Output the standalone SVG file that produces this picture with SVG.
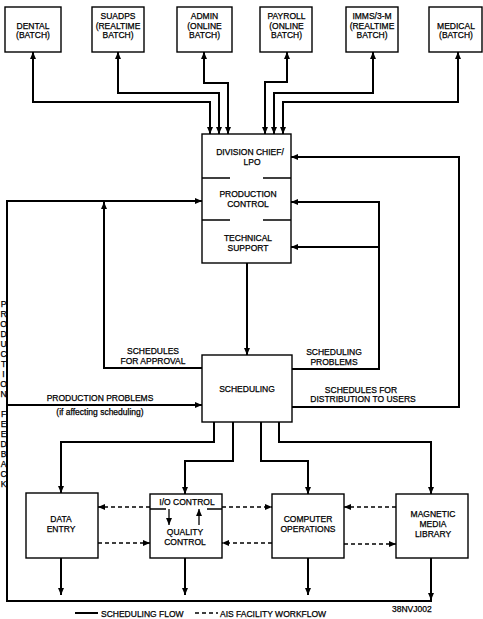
<svg xmlns="http://www.w3.org/2000/svg" width="483" height="619" viewBox="0 0 483 619">
  <style>
    text { font-family: "Liberation Sans", Arial, sans-serif; font-size: 8.5px; fill: #000; stroke: #000; stroke-width: 0.25; text-anchor: middle; }
    .start { text-anchor: start; }
    .box { fill: #fff; stroke: #000; stroke-width: 1.4; }
    .div { stroke: #000; stroke-width: 1.3; fill: none; }
    .flow { fill: none; stroke: #000; stroke-width: 2; }
    .work { fill: none; stroke: #000; stroke-width: 1.3; stroke-dasharray: 4 3; }
  </style>
  <defs>
    <marker id="ah" markerUnits="userSpaceOnUse" markerWidth="8" markerHeight="6" refX="7" refY="3" orient="auto-start-reverse">
      <path d="M0,0 L7,3 L0,6 Z" fill="#000"/>
    </marker>
    <marker id="ahs" markerUnits="userSpaceOnUse" markerWidth="8" markerHeight="6" refX="7" refY="3" orient="auto">
      <path d="M0,0 L7,3 L0,6 Z" fill="#000"/>
    </marker>
  </defs>

  <!-- source systems -->
  <g id="dental">
    <rect class="box" x="5" y="7" width="56" height="45"/>
    <text x="33" y="29">DENTAL</text>
    <text x="33" y="38">(BATCH)</text>
  </g>
  <g id="suadps">
    <rect class="box" x="92" y="7" width="52" height="45"/>
    <text x="118" y="19">SUADPS</text>
    <text x="118" y="29">(REALTIME</text>
    <text x="118" y="38">BATCH)</text>
  </g>
  <g id="admin">
    <rect class="box" x="177" y="7" width="55" height="45"/>
    <text x="204.5" y="19">ADMIN</text>
    <text x="204.5" y="29">(ONLINE</text>
    <text x="204.5" y="38">BATCH)</text>
  </g>
  <g id="payroll">
    <rect class="box" x="260" y="7" width="52" height="45"/>
    <text x="286.5" y="19">PAYROLL</text>
    <text x="286.5" y="29">(ONLINE</text>
    <text x="286.5" y="38">BATCH)</text>
  </g>
  <g id="imms">
    <rect class="box" x="346" y="7" width="52" height="45"/>
    <text x="372" y="19">IMMS/3-M</text>
    <text x="372" y="29">(REALTIME</text>
    <text x="372" y="38">BATCH)</text>
  </g>
  <g id="medical">
    <rect class="box" x="429" y="7" width="53" height="45"/>
    <text x="456" y="29">MEDICAL</text>
    <text x="456" y="38">(BATCH)</text>
  </g>

  <!-- management block -->
  <g id="management">
    <rect class="box" x="202" y="134" width="89" height="129"/>
    <path class="div" d="M202,178 H230 M263,178 H291 M202,220 H230 M263,220 H291"/>
    <text x="250" y="155">DIVISION CHIEF/</text>
    <text x="252" y="165">LPO</text>
    <text x="248" y="196.5">PRODUCTION</text>
    <text x="248" y="207">CONTROL</text>
    <text x="248" y="240.5">TECHNICAL</text>
    <text x="248" y="250.5">SUPPORT</text>
  </g>

  <g id="scheduling">
    <rect class="box" x="202" y="355" width="90" height="67"/>
    <text x="247" y="392">SCHEDULING</text>
  </g>

  <g id="data-entry">
    <rect class="box" x="26" y="493" width="72" height="65"/>
    <text x="61" y="522">DATA</text>
    <text x="61" y="532">ENTRY</text>
  </g>
  <g id="quality-control">
    <rect class="box" x="150" y="494" width="72" height="64"/>
    <path class="div" d="M150,509 H166 M207,509 H222"/>
    <text x="187" y="505">I/O CONTROL</text>
    <text x="185" y="535">QUALITY</text>
    <text x="185" y="545">CONTROL</text>
    <path d="M169,509 V525" stroke="#000" stroke-width="1.3" marker-end="url(#ahs)"/>
    <path d="M199,525 V509" stroke="#000" stroke-width="1.3" marker-end="url(#ahs)"/>
  </g>
  <g id="computer-operations">
    <rect class="box" x="272" y="494" width="72" height="64"/>
    <text x="308" y="522">COMPUTER</text>
    <text x="308" y="532">OPERATIONS</text>
  </g>
  <g id="media-library">
    <rect class="box" x="396" y="494" width="72" height="64"/>
    <text x="433" y="517">MAGNETIC</text>
    <text x="433" y="527">MEDIA</text>
    <text x="433" y="537">LIBRARY</text>
  </g>

  <!-- connectors -->
  <g id="connectors">
    <!-- two-way links between the source systems and management -->
    <path class="flow" d="M210,134 V102 H33 V52" marker-start="url(#ah)" marker-end="url(#ah)"/>
    <path class="flow" d="M219,134 V93 H118 V52" marker-start="url(#ah)" marker-end="url(#ah)"/>
    <path class="flow" d="M228,134 V83 H204 V52" marker-start="url(#ah)" marker-end="url(#ah)"/>
    <path class="flow" d="M265,134 V82 H287 V52" marker-start="url(#ah)" marker-end="url(#ah)"/>
    <path class="flow" d="M274,134 V93 H373 V52" marker-start="url(#ah)" marker-end="url(#ah)"/>
    <path class="flow" d="M283,134 V102 H458 V52" marker-start="url(#ah)" marker-end="url(#ah)"/>

    <!-- management to scheduling -->
    <path class="flow" d="M247,263 V355" marker-end="url(#ah)"/>
    <!-- schedules for approval -->
    <path class="flow" d="M202,368 H104 V202" marker-end="url(#ah)"/>
    <!-- scheduling problems -->
    <path class="flow" d="M292,369 H379 V202 H291" marker-end="url(#ah)"/>
    <path class="flow" d="M379,247 H291" marker-end="url(#ah)"/>
    <!-- schedules for distribution to users -->
    <path class="flow" d="M292,407 H459 V157 H291" marker-end="url(#ah)"/>
    <!-- production feedback loop -->
    <path class="flow" d="M432,601 H7 V201 H202" marker-end="url(#ah)"/>
    <path class="flow" d="M7,405 H202" marker-end="url(#ah)"/>

    <!-- scheduling out to the work areas -->
    <path class="flow" d="M214,422 V442 H61 V493" marker-end="url(#ah)"/>
    <path class="flow" d="M233,422 V461 H185 V494" marker-end="url(#ah)"/>
    <path class="flow" d="M261,422 V461 H308 V494" marker-end="url(#ah)"/>
    <path class="flow" d="M279,422 V442 H431 V494" marker-end="url(#ah)"/>

    <!-- work area outputs -->
    <path class="flow" d="M61,558 V595" marker-end="url(#ah)"/>
    <path class="flow" d="M185,558 V595" marker-end="url(#ah)"/>
    <path class="flow" d="M308,558 V595" marker-end="url(#ah)"/>
    <path class="flow" d="M431,558 V600" marker-end="url(#ah)"/>

    <!-- facility workflow -->
    <path class="work" d="M150,507 H98" marker-end="url(#ahs)"/>
    <path class="work" d="M98,543 H150" marker-end="url(#ahs)"/>
    <path class="work" d="M222,507 H272" marker-end="url(#ahs)"/>
    <path class="work" d="M272,543 H222" marker-end="url(#ahs)"/>
    <path class="work" d="M396,507 H344" marker-end="url(#ahs)"/>
    <path class="work" d="M344,544 H396" marker-end="url(#ahs)"/>
  </g>

  <!-- connector labels -->
  <g id="labels">
    <text x="153" y="354">SCHEDULES</text>
    <text x="153" y="364">FOR APPROVAL</text>
    <text x="334" y="355">SCHEDULING</text>
    <text x="334" y="365">PROBLEMS</text>
    <text x="361" y="393">SCHEDULES FOR</text>
    <text x="363" y="402">DISTRIBUTION TO USERS</text>
    <text x="100" y="401">PRODUCTION PROBLEMS</text>
    <text x="100" y="415">(if affecting scheduling)</text>
  </g>

  <!-- vertical loop label -->
  <g id="feedback-label">
    <text x="3.5" y="306.5">P</text>
    <text x="3.5" y="316.5">R</text>
    <text x="3.5" y="326.5">O</text>
    <text x="3.5" y="336.5">D</text>
    <text x="3.5" y="346.5">U</text>
    <text x="3.5" y="356.5">C</text>
    <text x="3.5" y="366.5">T</text>
    <text x="3.5" y="376.5">I</text>
    <text x="3.5" y="386.5">O</text>
    <text x="3.5" y="396.5">N</text>
    <text x="3.5" y="416.5">F</text>
    <text x="3.5" y="426.5">E</text>
    <text x="3.5" y="436.5">E</text>
    <text x="3.5" y="446.5">D</text>
    <text x="3.5" y="456.5">B</text>
    <text x="3.5" y="466.5">A</text>
    <text x="3.5" y="476.5">C</text>
    <text x="3.5" y="486.5">K</text>
  </g>

  <!-- legend -->
  <g id="legend">
    <path class="flow" d="M75,613 H98"/>
    <text class="start" x="101" y="616.5">SCHEDULING FLOW</text>
    <path class="work" d="M195,613 H218"/>
    <text class="start" x="220" y="616.5">AIS FACILITY WORKFLOW</text>
    <text class="start" x="392" y="612">38NVJ002</text>
  </g>
</svg>
